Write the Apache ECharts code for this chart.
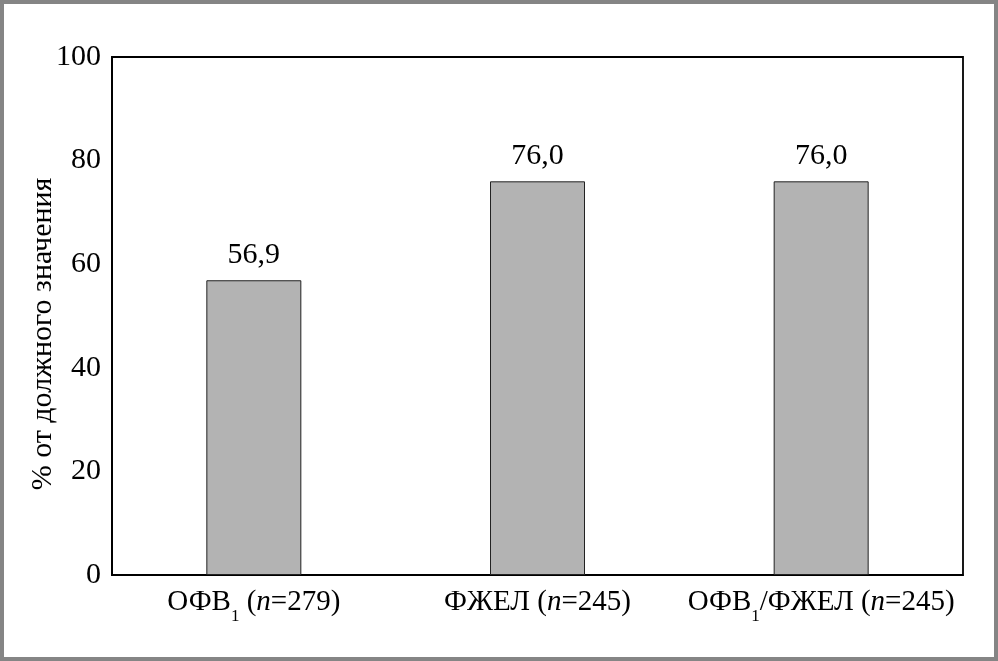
<!DOCTYPE html>
<html><head><meta charset="utf-8">
<script src="https://cdn.jsdelivr.net/npm/echarts@6/dist/echarts.min.js"></script>
<style>html,body{margin:0;padding:0;background:#fff}#c{width:998px;height:661px}</style>
</head><body><div id="c"></div>
<script>
const categories = ['ОФВ1 (n=279)', 'ФЖЕЛ (n=245)', 'ОФВ1/ФЖЕЛ (n=245)'];
const categoryLabels = [
  '{a|ОФВ}{s|1}{a| (}{i|n}{a|=279)}',
  '{a|ФЖЕЛ (}{i|n}{a|=245)}',
  '{a|ОФВ}{s|1}{a|/ФЖЕЛ (}{i|n}{a|=245)}'
];
const values = [56.9, 76.0, 76.0];
const valueLabels = ['56,9', '76,0', '76,0'];
const yTicks = [0, 20, 40, 60, 80, 100];
const yName = '% от должного значения';

const FONT = '"Liberation Serif", "Times New Roman", serif';
const chart = echarts.init(document.getElementById('c'), null, {renderer: 'canvas'});
chart.setOption({
  animation: false,
  backgroundColor: '#fff',
  graphic: [{
    type: 'rect', shape: {x: 0, y: 0, width: 998, height: 661},
    style: {fill: 'none', stroke: '#858585', lineWidth: 8}, z: 100
  }],
  grid: {left: 112, right: 35, top: 57, bottom: 86, show: true, borderColor: '#000', borderWidth: 1.8, backgroundColor: 'transparent'},
  xAxis: {
    type: 'category', data: categories,
    axisLine: {lineStyle: {color: '#000', width: 1.5}},
    axisTick: {show: false},
    axisLabel: {
      margin: 12, interval: 0,
      formatter: (v, i) => categoryLabels[i],
      rich: {
        a: {fontFamily: FONT, fontSize: 29, color: '#000', lineHeight: 30},
        i: {fontFamily: FONT, fontSize: 29, fontStyle: 'italic', color: '#000', lineHeight: 30},
        s: {fontFamily: FONT, fontSize: 17, color: '#000', lineHeight: 17, verticalAlign: 'bottom', padding: [0, 0, -8, 0]}
      }
    }
  },
  yAxis: {
    type: 'value', min: 0, max: 100, interval: 20,
    name: yName, nameLocation: 'middle', nameGap: 54, nameMoveOverlap: false,
    nameTextStyle: {fontFamily: FONT, fontSize: 30, color: '#000', padding: [0, 36, 0, 0]},
    axisLine: {show: true, lineStyle: {color: '#000', width: 2}},
    axisTick: {show: false},
    splitLine: {show: false},
    axisLabel: {
      margin: 11, fontFamily: FONT, fontSize: 30, color: '#000',
      formatter: v => yTicks.includes(v) ? String(v) : ''
    }
  },
  series: [{
    type: 'bar', data: values, barWidth: 95,
    itemStyle: {color: '#b3b3b3', borderColor: '#222', borderWidth: 1},
    label: {
      show: true, position: 'top', distance: 10,
      fontFamily: FONT, fontSize: 30, color: '#000',
      formatter: p => valueLabels[p.dataIndex]
    }
  }]
});
</script></body></html>
